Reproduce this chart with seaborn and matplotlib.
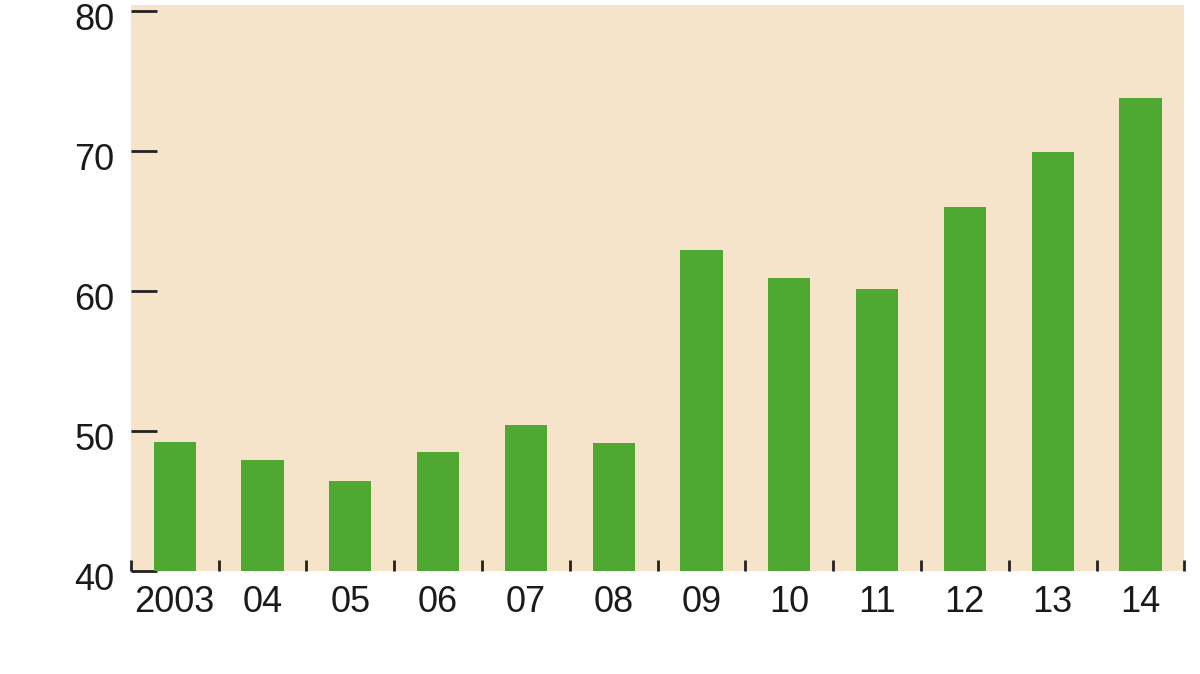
import matplotlib
matplotlib.use("Agg")
import matplotlib.pyplot as plt
import matplotlib.transforms as mtransforms
import seaborn as sns
import pandas as pd
import numpy as np

years = ["2003", "04", "05", "06", "07", "08", "09", "10", "11", "12", "13", "14"]
values = [49.2, 47.9, 46.4, 48.5, 50.4, 49.1, 62.9, 60.9, 60.1, 66.0, 69.9, 73.8]
y_ticks = [40, 50, 60, 70, 80]

df = pd.DataFrame({"year": years, "value": values})

sns.set_style("white")
plt.rcParams['font.family'] = ['Liberation Sans', 'DejaVu Sans']

fig = plt.figure(figsize=(12, 6.74), dpi=100)
ax = fig.add_axes([0.109, 0.153, 0.878, 0.840])
ax.set_facecolor("#f5e4c9")

sns.barplot(x="year", y="value", data=df, color="#4ea832", saturation=1,
            width=0.48, linewidth=0, ax=ax)

ax.set_ylim(40, 80.43)
ax.set_xlim(-0.5, len(years) - 0.5)
ax.set_yticks(y_ticks)
ax.set_xlabel("")
ax.set_ylabel("")
sns.despine(ax=ax, left=True, bottom=True, top=True, right=True)

ax.tick_params(axis="y", direction="in", length=19, width=2, color="#222222",
               pad=12, labelsize=26, labelcolor="#1a1a1a", left=True)
ax.tick_params(axis="x", which="major", length=0, pad=10, labelsize=26,
               labelcolor="#1a1a1a")
ax.set_xticks(np.arange(len(years) + 1) - 0.5, minor=True)
ax.tick_params(axis="x", which="minor", direction="in", length=8, width=2,
               color="#222222", bottom=True)

# y labels sit a little below their ticks in the original
shift = mtransforms.ScaledTranslation(0, -6 / 100, fig.dpi_scale_trans)
for lbl in ax.get_yticklabels():
    lbl.set_transform(lbl.get_transform() + shift)

fig.savefig("out.png", dpi=100, facecolor="white")
